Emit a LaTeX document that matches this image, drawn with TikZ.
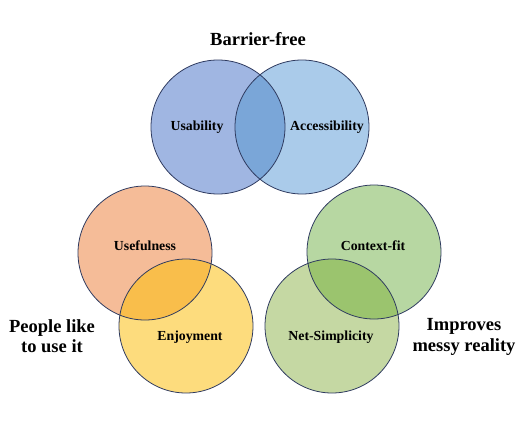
\documentclass[tikz,border=0pt]{standalone}
\usepackage{fontspec}
\setmainfont{Liberation Serif}
\usepackage{xcolor}
\usepackage{tikz}
\usetikzlibrary{positioning}

\definecolor{usabfill}{RGB}{160,182,226}
\definecolor{accfill}{RGB}{170,203,234}
\definecolor{blueov}{RGB}{122,166,216}
\definecolor{useffill}{RGB}{245,188,152}
\definecolor{enjfill}{RGB}{253,220,125}
\definecolor{orangeov}{RGB}{249,190,75}
\definecolor{ctxfill}{RGB}{183,215,162}
\definecolor{netfill}{RGB}{197,216,163}
\definecolor{greenov}{RGB}{155,196,110}
\definecolor{rimcol}{RGB}{46,58,95}

\begin{document}
\begin{tikzpicture}[
  x=1pt,y=-1pt,
  rim/.style={draw=rimcol,line width=0.8pt},
  lbl/.style={inner sep=0pt,font=\fontsize{13.8}{16}\selectfont\bfseries},
  group/.style={inner sep=0pt,align=center,font=\fontsize{18.5}{20.5}\selectfont\bfseries}
]
  \useasboundingbox (0,0) rectangle (530,442);
  \def\rad{67}
  \coordinate (usab) at (218,127);
  \coordinate (acc)  at (302,127);
  \coordinate (usef) at (145,253);
  \coordinate (enj)  at (186,326);
  \coordinate (ctx)  at (374,252);
  \coordinate (net)  at (332,326);

  % fills
  \fill[usabfill] (usab) circle (\rad);
  \fill[accfill]  (acc)  circle (\rad);
  \fill[useffill] (usef) circle (\rad);
  \fill[enjfill]  (enj)  circle (\rad);
  \fill[ctxfill]  (ctx)  circle (\rad);
  \fill[netfill]  (net)  circle (\rad);

  % overlaps
  \begin{scope}
    \clip (usab) circle (\rad);
    \fill[blueov] (acc) circle (\rad);
  \end{scope}
  \begin{scope}
    \clip (usef) circle (\rad);
    \fill[orangeov] (enj) circle (\rad);
  \end{scope}
  \begin{scope}
    \clip (ctx) circle (\rad);
    \fill[greenov] (net) circle (\rad);
  \end{scope}

  % outlines
  \foreach \c in {usab,acc,usef,enj,ctx,net}
    \draw[rim] (\c) circle (\rad);

  \node[group] (barrier) at (258,39) {Barrier-free};
  \node[group] (people)  at (52,336) {People like\\to use it};
  \node[group] (messy)   at (464,337) {Improves\\messy reality};

  \node[lbl] (usablbl) at (197,127) {Usability};
  \node[lbl] (acclbl)  at (327,127) {Accessibility};
  \node[lbl] (usefl)   at (145,246) {Usefulness};
  \node[lbl] (enjl)    at (190,337) {Enjoyment};
  \node[lbl] (ctxl)    at (373,246) {Context-fit};
  \node[lbl] (netl)    at (331,337) {Net-Simplicity};
\end{tikzpicture}
\end{document}
